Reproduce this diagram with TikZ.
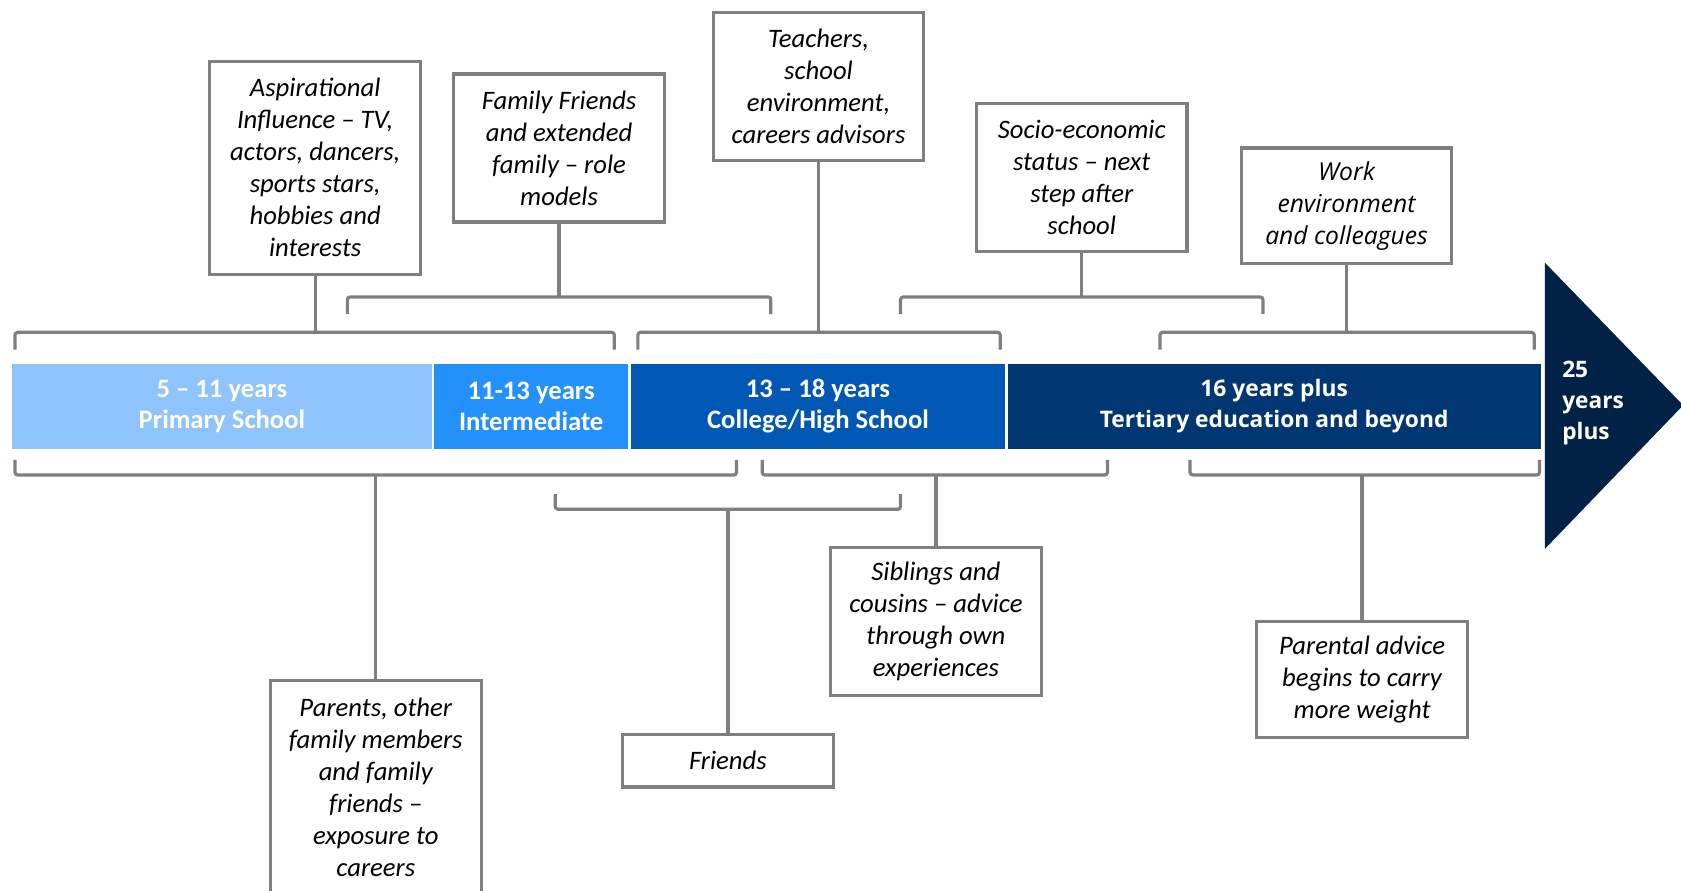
\documentclass[tikz,border=0pt]{standalone}
\usepackage{fontspec}
\setmainfont{Carlito}
\newfontfamily\osans{Open Sans}
\definecolor{c1}{HTML}{8FC3FB}
\definecolor{c2}{HTML}{2391F9}
\definecolor{c3}{HTML}{0058B4}
\definecolor{c4}{HTML}{003671}
\definecolor{c5}{HTML}{022147}
\definecolor{ln}{HTML}{7F7F7F}
\tikzset{
  infobox/.style={draw=ln, line width=2.4pt, fill=white, inner sep=0pt, minimum width=158pt,
    align=center, font=\fontsize{20}{24}\selectfont\itshape},
  seg/.style={inner sep=0pt, minimum height=63.5pt, text=white, align=center,
    font=\fontsize{20}{23.3}\selectfont\bfseries},
  br/.style={draw=ln, line width=2.4pt, rounded corners=2pt},
  conn/.style={draw=ln, line width=2.4pt}
}
\begin{document}
\begin{tikzpicture}[x=0.804pt, y=-0.804pt]
\clip (0,0) rectangle (1568,831);
\fill[white] (0,0) rectangle (1568,831);

% timeline bar
\node[seg, fill=c1, minimum width=392*0.804pt] (s1) at (207,379) {5 -- 11 years\\Primary School};
\node[seg, fill=c2, minimum width=181*0.804pt] (s2) at (495.5,379) {11-13 years\\Intermediate};
\node[seg, fill=c3, minimum width=348*0.804pt] (s3) at (763,379) {13 -- 18 years\\College/High School};
\node[seg, fill=c4, minimum width=497*0.804pt, font=\osans\fontsize{17.1}{23.3}\selectfont\bfseries] (s4) at (1188.5,379) {16 years plus\\Tertiary education and beyond};
\fill[c5] (1441,245) -- (1570,378) -- (1441,512) -- cycle;
\node[anchor=west, inner sep=0pt, text=white, align=left, font=\osans\fontsize{17}{23.3}\selectfont\bfseries] (s5) at (1457,376) {25\\years\\plus};

% top boxes
\node[infobox, minimum height=160pt] (asp) at (294,156.5) {Aspirational\\Influence -- TV,\\actors, dancers,\\sports stars,\\hobbies and\\interests};
\node[infobox, minimum height=111pt] (fam) at (521.5,138) {Family Friends\\and extended\\family -- role\\models};
\node[infobox, minimum height=111pt] (tea) at (763.5,80.5) {Teachers,\\school\\environment,\\careers advisors};
\node[infobox, minimum height=111pt] (soc) at (1009,165.5) {Socio-economic\\status -- next\\step after\\school};
\node[infobox, minimum height=86.8pt, font=\osans\fontsize{18.5}{24}\selectfont\itshape] (wrk) at (1256,192) {Work\\environment\\and colleagues};

% bottom boxes
\node[infobox, minimum height=160pt] (par) at (350.5,734.5) {Parents, other\\family members\\and family\\friends --\\exposure to\\careers};
\node[infobox, minimum height=39.4pt] (fri) at (679,709.5) {Friends};
\node[infobox, minimum height=111pt] (sib) at (873,580) {Siblings and\\cousins -- advice\\through own\\experiences};
\node[infobox, minimum height=86.8pt] (pad) at (1270.5,634) {Parental advice\\begins to carry\\more weight};

% top brackets
\coordinate (bA) at (294,310);
\draw[br] (14,326) |- (bA) -| (573,326);
\draw[conn] (asp.south) -- (bA);
\coordinate (bB) at (521.5,277);
\draw[br] (324,293) |- (bB) -| (719,293);
\draw[conn] (fam.south) -- (bB);
\coordinate (bC) at (763.5,310);
\draw[br] (595,326) |- (bC) -| (933,326);
\draw[conn] (tea.south) -- (bC);
\coordinate (bD) at (1009,277);
\draw[br] (840,293) |- (bD) -| (1178,293);
\draw[conn] (soc.south) -- (bD);
\coordinate (bE) at (1256,310);
\draw[br] (1082,326) |- (bE) -| (1431,326);
\draw[conn] (wrk.south) -- (bE);

% bottom brackets
\coordinate (bF) at (350.5,443);
\draw[br] (14,429) |- (bF) -| (687,429);
\draw[conn] (bF) -- (par.north);
\coordinate (bG) at (679,475);
\draw[br] (518,461) |- (bG) -| (840,461);
\draw[conn] (bG) -- (fri.north);
\coordinate (bH) at (873,443);
\draw[br] (711,429) |- (bH) -| (1033,429);
\draw[conn] (bH) -- (sib.north);
\coordinate (bI) at (1270.5,443);
\draw[br] (1110,429) |- (bI) -| (1436,429);
\draw[conn] (bI) -- (pad.north);
\end{tikzpicture}
\end{document}
